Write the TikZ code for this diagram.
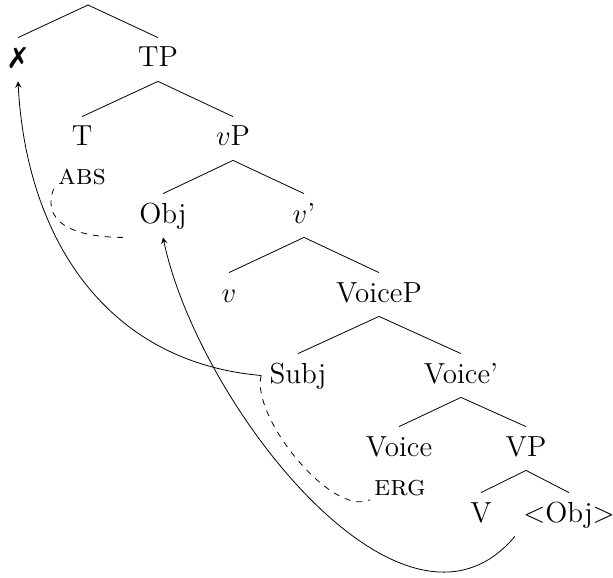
\documentclass[tikz,border=0pt]{standalone}
\usepackage{tikz}
\usepackage{pifont}

\tikzset{
  cat/.style={anchor=base, inner sep=4pt, text height=10.5pt, text depth=3pt},
  feat/.style={anchor=base, inner sep=2pt, font=\fontsize{14.5}{17}\selectfont\scshape}
}

\begin{document}
\begin{tikzpicture}[x=0.5pt, y=0.5pt, font=\fontsize{14.5}{17}\selectfont, >=stealth]
  \useasboundingbox (0,0) rectangle (613,-577);

  \coordinate (top) at (88,-5);
  \node[cat] (bad)      at (18,-67)   {\ding{55}};
  \node[cat] (tp)       at (158,-67)  {TP};
  \node[cat] (t)        at (82,-146)  {T};
  \node[cat] (vp)       at (233,-146) {$v$P};
  \node[cat] (obj)      at (163,-223) {Obj};
  \node[cat] (vbar)     at (304,-223) {$v$'};
  \node[cat] (v)        at (229,-302) {$v$};
  \node[cat] (voicep)   at (379,-302) {VoiceP};
  \node[cat] (subj)     at (298,-383) {Subj};
  \node[cat] (voicebar) at (461,-383) {Voice'};
  \node[cat] (voice)    at (399,-456) {Voice};
  \node[cat] (vvp)      at (526,-456) {VP};
  \node[cat] (verb)     at (481,-522) {V};
  \node[cat] (oldobj)   at (569,-522) {\textless Obj\textgreater};

  \node[feat] (abs) at (82,-184)  {abs};
  \node[feat] (erg) at (400,-495) {erg};

  \draw (top) -- (bad.north);
  \draw (top) -- (tp.north);
  \foreach \a/\b in {tp/t, tp/vp, vp/obj, vp/vbar, vbar/v, vbar/voicep,
                     voicep/subj, voicep/voicebar, voicebar/voice, voicebar/vvp,
                     vvp/verb, vvp/oldobj}
  {
    \draw (\a.south) -- (\b.north);
  }

  \draw[->] (subj.west) to[out=175, in=-87, looseness=1.05] (bad.south);
  \draw[->] (oldobj.south west) to[out=-130, in=-78, looseness=0.95] (obj.south);

  \draw[dashed, shorten >=4pt] (abs.south west) to[out=-110, in=180, looseness=1.2] (obj.south west);
  \draw[dashed] (subj.west) to[out=-105, in=-155, looseness=0.65] (erg.south west);
\end{tikzpicture}
\end{document}
